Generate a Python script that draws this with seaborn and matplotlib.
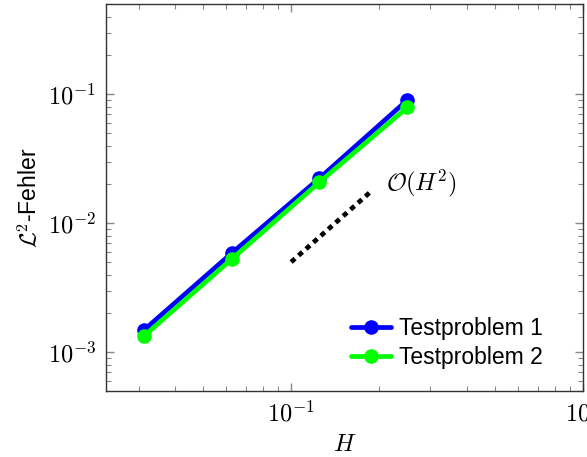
import numpy as np
import pandas as pd
import matplotlib
matplotlib.use("Agg")
import matplotlib.pyplot as plt
import matplotlib.ticker as mticker
import seaborn as sns

H = [1/32, 1/16, 1/8, 1/4]
err_tp1 = [1.48e-3, 5.85e-3, 2.23e-2, 9.0e-2]
err_tp2 = [1.33e-3, 5.26e-3, 2.08e-2, 7.9e-2]
series_names = ["Testproblem 1", "Testproblem 2"]
colors = ["#0000ff", "#00ff00"]
ref_H = [0.1, 0.19]
ref_err = [5e-3, 5e-3 * (0.19 / 0.1) ** 2]

sns.set_style("ticks")
plt.rcParams["font.family"] = ["Liberation Sans", "DejaVu Sans"]
plt.rcParams["mathtext.fontset"] = "cm"
plt.rcParams["text.color"] = "black"
plt.rcParams["axes.labelcolor"] = "black"
plt.rcParams["xtick.labelcolor"] = "black"
plt.rcParams["ytick.labelcolor"] = "black"

df = pd.DataFrame({
    "H": H * 2,
    "err": err_tp1 + err_tp2,
    "series": [series_names[0]] * 4 + [series_names[1]] * 4,
})

fig = plt.figure(figsize=(5.87, 4.57), dpi=100)
ax = fig.add_axes([0.1806, 0.1444, 0.8124, 0.8466])

for name, c in zip(series_names, colors):
    sub = df[df["series"] == name]
    sns.lineplot(data=sub, x="H", y="err", ax=ax, color=c, linewidth=3.4,
                 marker="o", markersize=10.5, markeredgewidth=0, label=name)

ax.plot(ref_H, ref_err, color="black", linestyle=(0, (1.1, 1.0)), linewidth=3.4)
ax.text(0.212, 0.0205, r"$\mathcal{O}(H^2)$", fontsize=17.5, ha="left", va="center",
        color="black")

def logfmt(v, pos):
    e = int(np.round(np.log10(v)))
    return r"$10^{%d}$" % e

ax.set_xscale("log")
ax.set_yscale("log")
ax.set_xlim(0.0232, 1.0)
ax.set_ylim(5e-4, 0.5)
ax.set_xlabel(r"$H$", fontsize=17.5, labelpad=6, color="black")
ax.set_ylabel(r"$\mathcal{L}^2$-Fehler", fontsize=16.5, labelpad=4, color="black")
ax.xaxis.set_major_locator(mticker.LogLocator(base=10))
ax.xaxis.set_major_formatter(mticker.FuncFormatter(logfmt))
ax.yaxis.set_major_formatter(mticker.FuncFormatter(logfmt))
ax.tick_params(which="both", direction="in", top=True, right=True, color="#888888",
               labelcolor="black")
ax.tick_params(which="major", length=6, width=1, labelsize=17.5, pad=7)
ax.tick_params(which="minor", length=3.5, width=0.8)
for s in ax.spines.values():
    s.set_color("#333333")
    s.set_linewidth(1.0)

leg = ax.legend(loc="lower right", bbox_to_anchor=(0.935, 0.034), frameon=False,
                fontsize=16.5, handlelength=1.75, borderaxespad=0.0,
                labelspacing=0.25, handletextpad=0.35, labelcolor="black")

fig.savefig("out.png", dpi=100)
